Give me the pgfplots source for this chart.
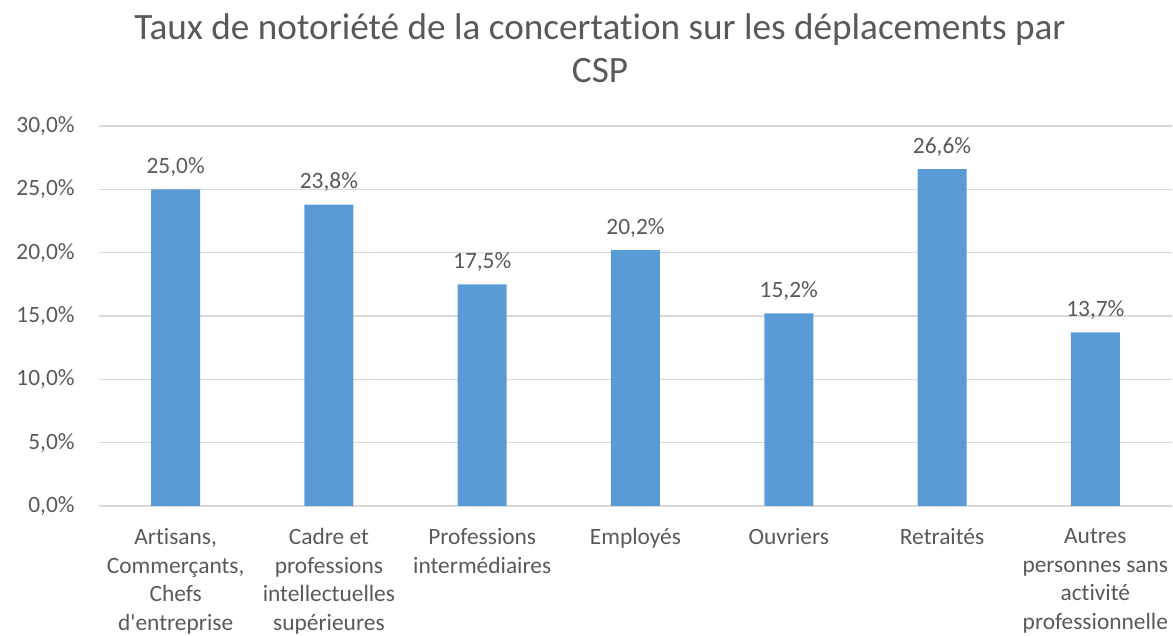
\documentclass[border=0pt]{standalone}
\usepackage{fontspec}
\setmainfont{Carlito}[Ligatures={TeX,NoCommon}]
\usepackage{pgfplots}
\pgfplotsset{compat=1.18}
\definecolor{barblue}{HTML}{5B9BD5}
\definecolor{txtgray}{HTML}{595959}
\definecolor{gridgray}{HTML}{D9D9D9}
\newcommand{\lblfont}{\fontsize{11.7}{14.3}\selectfont}
\begin{document}
\begin{tikzpicture}
\path[use as bounding box] (0,0) rectangle (586.5pt,318pt);
\begin{axis}[
  at={(49.5pt,65pt)}, anchor=south west,
  scale only axis, width=536.5pt, height=190pt,
  ybar, bar width=24.5pt,
  xmin=-0.5, xmax=6.5, ymin=0, ymax=30,
  xtick={0,...,6},
  xticklabels={{Artisans,\\Commerçants,\\Chefs\\d\textquotesingle entreprise},
    {Cadre et\\professions\\intellectuelles\\supérieures},
    {Professions\\intermédiaires},
    {Employés},{Ouvriers},{Retraités},
    {Autres\\personnes sans\\activité\\professionnelle}},
  xticklabel style={align=center, font=\lblfont, text=txtgray, inner sep=0pt, yshift=-11pt},
  ytick={0,5,...,30},
  yticklabel={\pgfmathprintnumber[fixed,fixed zerofill,precision=1,use comma]{\tick}\%},
  yticklabel style={font=\lblfont, text=txtgray, inner sep=0pt, xshift=-12pt},
  /pgf/number format/assume math mode=true,
  ymajorgrids, grid style={gridgray, line width=0.75pt},
  axis line style={draw=none}, major tick length=0pt,
  nodes near coords={\pgfmathprintnumber[fixed,fixed zerofill,precision=1,use comma]{\pgfplotspointmeta}\%},
  nodes near coords style={font=\lblfont, text=txtgray, anchor=base, yshift=8pt, inner sep=0pt},
  clip=false,
]
\addplot[fill=barblue, draw=none] coordinates {(0,25.0) (1,23.8) (2,17.5) (3,20.2) (4,15.2) (5,26.6) (6,13.7)};
\end{axis}
\node[anchor=base, font=\fontsize{18.6}{22}\selectfont, text=txtgray] at (300pt,298pt) {Taux de notoriété de la concertation sur les déplacements par};
\node[anchor=base, font=\fontsize{18.6}{22}\selectfont, text=txtgray] at (300pt,276.5pt) {CSP};
\end{tikzpicture}
\end{document}
